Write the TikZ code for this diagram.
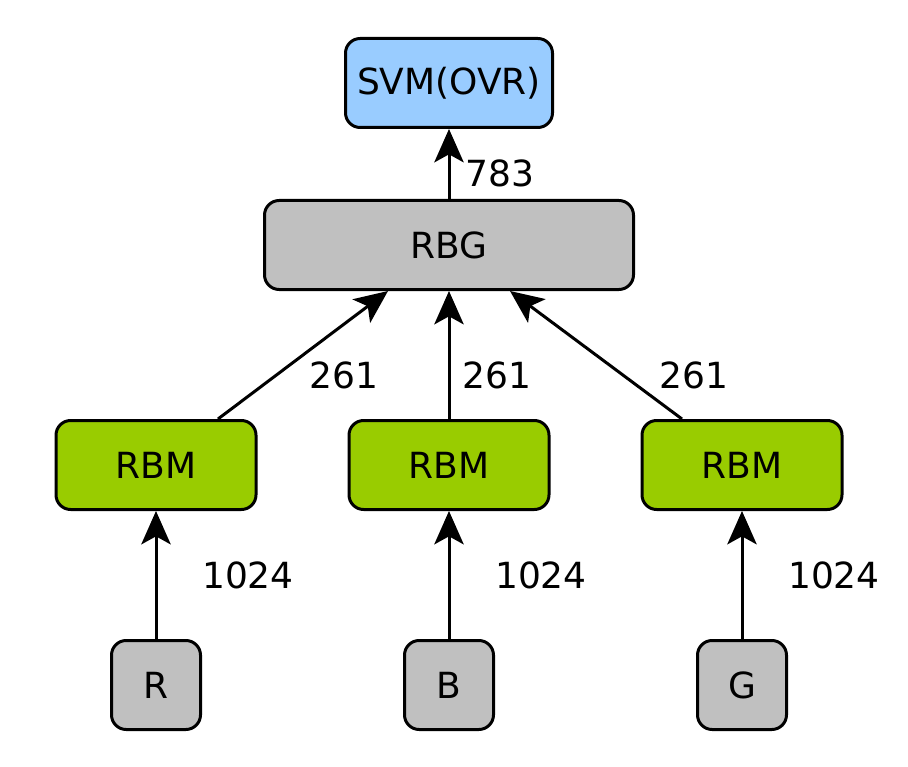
\documentclass[tikz,border=0pt]{standalone}
\usepackage{fontspec}
\setmainfont{DejaVu Sans}
\usetikzlibrary{arrows.meta,calc}
\definecolor{svmblue}{HTML}{99CCFF}
\definecolor{boxgray}{HTML}{C0C0C0}
\definecolor{rbmgreen}{HTML}{99CC00}
\tikzset{
  box/.style={draw=black, line width=2.25pt, rounded corners=11pt, minimum height=66.75pt, inner sep=0pt, font=\fontsize{27}{32}\selectfont},
  svmbox/.style={box, fill=svmblue, minimum width=155.25pt},
  rbgbox/.style={box, fill=boxgray, minimum width=276.75pt},
  rbmbox/.style={box, fill=rbmgreen, minimum width=150pt},
  inbox/.style={box, fill=boxgray, minimum width=66.75pt},
  conn/.style={line width=2.25pt, -{Stealth[length=25pt, width=22pt, inset=6pt]}},
  lbl/.style={font=\fontsize{27}{32}\selectfont, inner sep=0pt}
}
\begin{document}
\begin{tikzpicture}[x=0.75pt,y=-0.75pt]
\useasboundingbox (0,0) rectangle (908,767);
\node[svmbox] (svm) at (449,83) {SVM(OVR)};
\node[rbgbox] (rbg) at (449,245) {RBG};
\node[rbmbox] (rbm1) at (156,465) {RBM};
\node[rbmbox] (rbm2) at (449,465) {RBM};
\node[rbmbox] (rbm3) at (742,465) {RBM};
\node[inbox] (r) at (156,685) {R};
\node[inbox] (b) at (449,685) {B};
\node[inbox] (g) at (742,685) {G};

\draw[conn] (r) -- (rbm1);
\draw[conn] (b) -- (rbm2);
\draw[conn] (g) -- (rbm3);
\draw[conn] ([xshift=46.5pt]rbm1.north) -- ([xshift=-45.75pt]rbg.south);
\draw[conn] (rbm2) -- (rbg);
\draw[conn] ([xshift=-45pt]rbm3.north) -- ([xshift=45.75pt]rbg.south);
\draw[conn] (rbg) -- (svm);

\node[lbl] (l783) at (500,173) {783};
\node[lbl] (l261a) at (344,375) {261};
\node[lbl] (l261b) at (497,375) {261};
\node[lbl] (l261c) at (694,375) {261};
\node[lbl] (l1024a) at (248,575) {1024};
\node[lbl] (l1024b) at (541,575) {1024};
\node[lbl] (l1024c) at (834,575) {1024};
\end{tikzpicture}
\end{document}
